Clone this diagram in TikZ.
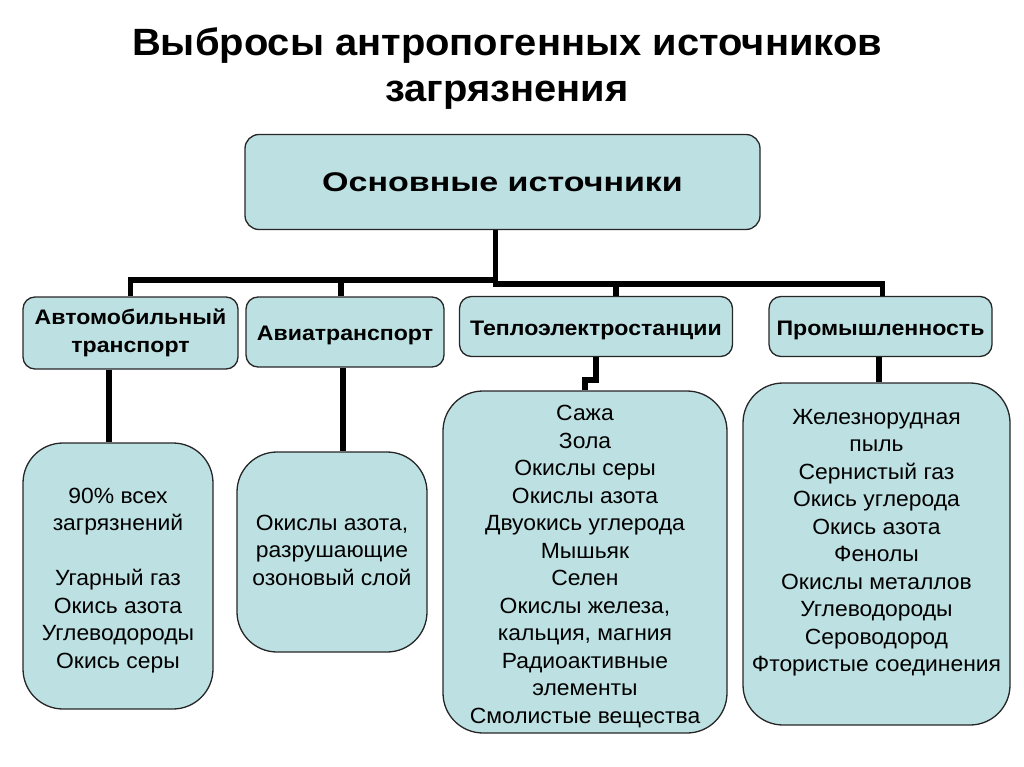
\documentclass[tikz,border=0pt]{standalone}
\usepackage{fontspec}
\setmainfont{Liberation Sans}
\newfontfamily\titlefont{Liberation Sans}[FakeStretch=1.05]
\newfontfamily\headfont{Liberation Sans}[FakeStretch=1.26]
\newfontfamily\srcfont{Liberation Sans}[FakeStretch=1.1]
\newfontfamily\listfont{Liberation Sans}[FakeStretch=1.04]
\newcommand\topstrut{\rule{0pt}{24pt}}
\usepackage{tikz}
\usetikzlibrary{positioning}
\definecolor{boxfill}{RGB}{189,224,226}

\begin{document}
\begin{tikzpicture}[x=1pt, y=-1pt, line join=miter,
		head/.style={rectangle, rounded corners=14pt, draw=black!85, line width=1.3pt, fill=boxfill, align=center, font=\headfont\fontsize{27}{31}\selectfont\bfseries},
		src/.style={rectangle, rounded corners=12pt, draw=black!85, line width=1.3pt, fill=boxfill, align=center, font=\srcfont\fontsize{21}{27.5}\selectfont\bfseries, inner sep=0pt, execute at begin node=\rule{0pt}{22pt}},
		list/.style={rectangle, rounded corners=40pt, draw=black!85, line width=1.3pt, fill=boxfill, align=center, font=\listfont\fontsize{22}{27.5}\selectfont, inner sep=0pt},
		link/.style={draw=black, line width=5.5pt}]
	\useasboundingbox (0,0) rectangle (1024,767);

	\node[font=\titlefont\fontsize{38}{46}\selectfont\bfseries, align=center] (title) at (507,69) {Выбросы антропогенных источников\\загрязнения};

	\node[head, minimum width=515pt, minimum height=95pt] (main) at (502.5,182) {Основные источники};

	\node[src, minimum width=215pt, minimum height=72pt] (auto)  at (130.5,333) {Автомобильный\\транспорт};
	\node[src, minimum width=198pt, minimum height=70pt] (avia)  at (345,332)   {Авиатранспорт};
	\node[src, minimum width=273pt, minimum height=60pt] (teplo) at (596,326.5) {Теплоэлектростанции};
	\node[src, minimum width=223pt, minimum height=60pt] (prom)  at (880.5,326.5) {Промышленность};

	\node[list, minimum width=190pt, minimum height=266pt] (gasA) at (118,576) {\topstrut 90\% всех\\загрязнений\\[27.5pt]Угарный газ\\Окись азота\\Углеводороды\\Окись серы};
	\node[list, minimum width=190pt, minimum height=200pt] (gasB) at (332,552) {Окислы азота,\\разрушающие\\озоновый слой\rule[-4pt]{0pt}{1pt}};
	\node[list, minimum width=284pt, minimum height=342pt] (gasC) at (585,562) {\topstrut Сажа\\Зола\\Окислы серы\\Окислы азота\\Двуокись углерода\\Мышьяк\\Селен\\Окислы железа,\\кальция, магния\\Радиоактивные\\элементы\\Смолистые вещества};
	\node[list, minimum width=267pt, minimum height=342pt] (gasD) at (876.5,554) {Железнорудная\\пыль\\Сернистый газ\\Окись углерода\\Окись азота\\Фенолы\\Окислы металлов\\Углеводороды\\Сероводород\\Фтористые соединения\\~};

	% main bus
	\coordinate (busL) at (0,280);
	\coordinate (busR) at (0,284);
	\draw[link] ([xshift=-7pt]main.south) -- ([xshift=-7pt]main.south |- busL) -| (auto.north);
	\draw[link] ([xshift=-7pt]main.south |- busL) -| ([xshift=-4pt]avia.north);
	\draw[link] ([xshift=-7pt]main.south) -- ([xshift=-7pt]main.south |- busR) -| ([xshift=20pt]teplo.north);
	\draw[link] ([xshift=-7pt]main.south |- busR) -| ([xshift=2pt]prom.north);

	% down to the lists
	\draw[link] ([xshift=-9pt]gasA.north |- auto.south) -- ([xshift=-9pt]gasA.north);
	\draw[link] ([xshift=-2pt]avia.south) -- ([xshift=-2pt]avia.south |- gasB.north);
	\draw[link] (teplo.south) -- ++(0,23) -| (gasC.north);
	\draw[link] ([xshift=-1.5pt]prom.south) -- ([xshift=-1.5pt]prom.south |- gasD.north);
\end{tikzpicture}
\end{document}
